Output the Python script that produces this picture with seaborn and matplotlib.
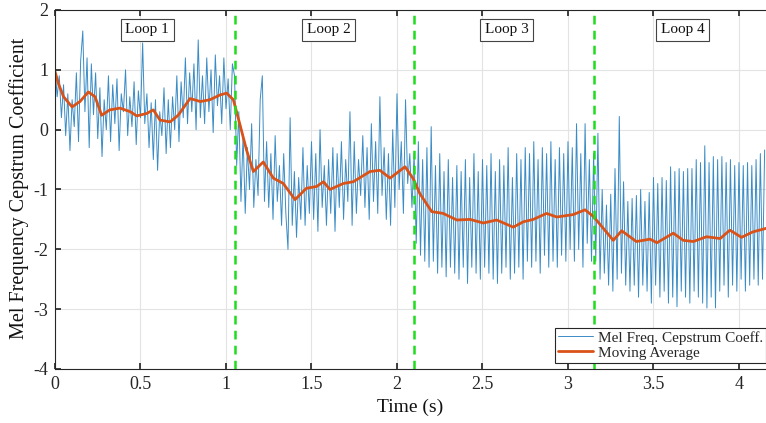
import numpy as np
import pandas as pd
import matplotlib
matplotlib.use("Agg")
import matplotlib.pyplot as plt
import seaborn as sns

# ---------------- data ----------------
DT = 0.0125  # seconds between MFCC frames

loop1_vals = [1.05, 0.55, 0.9, 0.2, 0.75, -0.1, 0.6, -0.35, 0.5, 0.05, 0.95, -0.2,
              1.15, 1.65, 0.3, 1.2, -0.3, 1.1, 0.25, 0.95, -0.15, 0.7, -0.45, 0.5,
              0.0, 0.9, -0.2, 0.75, 0.1, 0.85, -0.35, 0.6, 0.3, 1.0, -0.1, 0.55,
              0.05, 0.8, -0.25, 0.65, 0.2, 1.45, 0.1, 0.6, -0.3, 0.45, -0.5, 0.5,
              -0.68, 0.3, -0.1, 0.7, -0.4, 0.5, -0.3, 0.55, 0.0, 0.9, -0.2, 0.8,
              0.2, 1.2, 0.1, 0.95, 0.3, 1.1, 0.0, 1.5, 0.2, 0.9, 0.1, 1.2,
              0.3, 1.0, -0.05, 1.25, 0.4, 0.9, 0.1, 1.2, 0.35, 0.85, 0.0, 1.1]

loop2_vals = [0.9, -0.6, 0.3, -1.2, -0.1, -1.4, -0.3, -1.0, 0.1, -1.3, -0.5, -1.1,
              0.5, 0.9, -1.2, -0.2, -1.3, -0.4, -1.5, -0.1, -1.2, -0.6, -1.6, -0.4,
              -1.4, -2.0, 0.2, -1.6, -0.7, -1.8, -0.8, -1.5, -0.3, -1.6, -0.6, -1.4,
              -0.2, -1.5, -0.4, -1.7, 0.0, -1.3, -0.6, -1.6, -0.5, -1.4, -0.3, -1.7,
              -0.4, -1.3, -0.2, -1.5, -0.5, -1.2, 0.3, -1.6, -0.2, -1.4, -0.5, -1.1,
              -0.1, -1.3, -0.3, -1.5, 0.1, -1.2, -0.2, -1.4, 0.55, -1.1, -0.3, -1.5,
              -0.4, -1.6, 0.0, -1.3, 0.6, -1.0, -0.2, -1.4, 0.5, -0.9, -0.4, -1.3]

loop3_vals = [-0.4, -1.9, -0.2, -2.1, -0.5, -2.2, -0.3, -2.3, 0.05, -2.2, -0.6, -2.4,
              -0.4, -2.3, -0.7, -2.46, -0.5, -2.3, -0.8, -2.4, -0.6, -2.5, -0.7, -2.3,
              -0.5, -2.57, -0.8, -2.3, -0.4, -2.4, -0.7, -2.5, -0.5, -2.3, -0.6, -2.4,
              -0.4, -2.5, -0.7, -2.57, -0.5, -2.4, -0.6, -2.3, -0.3, -2.5, -0.8, -2.4,
              -0.4, -2.3, -0.5, -2.5, -0.3, -2.2, -0.4, -2.3, -0.2, -2.2, -0.5, -2.4,
              -0.3, -2.1, -0.4, -2.3, -0.2, -2.2, -0.5, -2.3, -0.3, -2.1, -0.4, -2.2,
              -0.2, -2.0, -0.3, -2.2, 0.1, -2.0, -0.4, -2.3, 0.1, -1.9, -0.5, -2.2]

loop4_vals = [-0.4, -2.2, -0.06, -2.5, -1.0, -2.4, -1.26, -2.6, -1.08, -2.7, -0.65, -2.5,
              0.22, -2.4, -0.87, -2.6, -1.2, -2.7, -1.15, -2.6, -1.1, -2.8, -1.0, -2.6,
              -1.2, -2.7, -1.05, -2.9, -0.8, -2.6, -0.9, -2.8, -0.8, -2.7, -0.85, -2.9,
              -0.62, -2.8, -0.7, -2.96, -0.65, -2.7, -0.7, -2.8, -0.65, -2.9, -0.65, -2.7,
              -0.5, -2.8, -0.55, -2.9, -0.27, -2.98, -0.55, -2.8, -0.45, -2.98, -0.5, -2.7,
              -0.45, -2.6, -0.55, -2.8, -0.5, -2.6, -0.6, -2.7, -0.55, -2.5, -0.6, -2.7,
              -0.55, -2.6, -0.6, -2.5, -0.5, -2.6, -0.4, -2.5, -0.34]

ma_time = [0, .02, .05, .10, .146, .195, .234, .273, .32, .38, .44, .478, .536, .575, .614,
           .673, .72, .79, .85, .906, .965, 1.004, 1.043, 1.082, 1.12, 1.16, 1.218, 1.277,
           1.335, 1.404, 1.47, 1.53, 1.57, 1.608, 1.686, 1.745, 1.842, 1.90, 1.96, 2.047,
           2.095, 2.134, 2.203, 2.27, 2.35, 2.427, 2.505, 2.583, 2.68, 2.739, 2.797, 2.875,
           2.934, 3.03, 3.10, 3.148, 3.207, 3.265, 3.314, 3.40, 3.48, 3.52, 3.616, 3.674,
           3.733, 3.81, 3.89, 3.947, 4.015, 4.08, 4.158]
ma_vals = [.97, .77, .55, .38, .47, .63, .55, .24, .33, .36, .30, .23, .27, .33, .16,
           .13, .24, .52, .47, .50, .58, .61, .50, .08, -.34, -.70, -.54, -.81,
           -.90, -1.17, -.98, -.95, -.87, -1.0, -.90, -.87, -.70, -.68, -.81, -.62,
           -.82, -1.07, -1.37, -1.40, -1.51, -1.50, -1.56, -1.51, -1.63, -1.54, -1.50, -1.40,
           -1.46, -1.42, -1.34, -1.45, -1.65, -1.85, -1.69, -1.87, -1.83, -1.89, -1.73, -1.85,
           -1.87, -1.79, -1.82, -1.68, -1.80, -1.71, -1.65]

loop_bounds = [1.05, 2.10, 3.15]
loop_labels = ["Loop 1", "Loop 2", "Loop 3", "Loop 4"]
loop_label_x = [0.54, 1.60, 2.64, 3.67]
x_ticks = [0, 0.5, 1, 1.5, 2, 2.5, 3, 3.5, 4]
x_tick_labels = ["0", "0.5", "1", "1.5", "2", "2.5", "3", "3.5", "4"]
y_ticks = [-4, -3, -2, -1, 0, 1, 2]

# ---------------- figure ----------------
sns.set_theme(style="whitegrid")
plt.rcParams["font.family"] = ["Liberation Serif", "DejaVu Serif"]
plt.rcParams["axes.unicode_minus"] = False

fig = plt.figure(figsize=(7.66, 4.23), dpi=100)
ax = fig.add_axes([0.0718, 0.1277, 0.9282, 0.8487])
ax.set_facecolor("white")

mfcc = loop1_vals + loop2_vals + loop3_vals + loop4_vals
df = pd.DataFrame({"t": np.arange(len(mfcc)) * DT, "v": mfcc})
df_ma = pd.DataFrame({"t": ma_time, "v": ma_vals})

sns.lineplot(data=df, x="t", y="v", ax=ax, color="#3a8cc6", lw=0.7,
             label="Mel Freq. Cepstrum Coeff.", estimator=None)
sns.lineplot(data=df_ma, x="t", y="v", ax=ax, color="#D95319", lw=2.0,
             label="Moving Average", estimator=None)

for b in loop_bounds:
    ax.axvline(b, color="#1fdc1f", lw=1.8, ls=(0, (3.5, 2.5)), zorder=3)

for lx, lab in zip(loop_label_x, loop_labels):
    ax.text(lx, 1.67, lab, ha="center", va="center", fontsize=11, color="#111111",
            bbox=dict(boxstyle="square,pad=0.3", fc="white", ec="#444444", lw=0.8))

ax.set_xlim(0, 4.158)
ax.set_ylim(-4, 2)
ax.set_xticks(x_ticks)
ax.set_xticklabels(x_tick_labels)
ax.set_yticks(y_ticks)
ax.grid(True, color="#e3e3e3", lw=0.8)
ax.tick_params(axis="both", labelsize=13, colors="#262626", direction="in",
               length=4, top=True, bottom=True, left=True, pad=5)
ax.tick_params(axis="x", top=True, labeltop=False)

for side in ["left", "bottom", "top"]:
    ax.spines[side].set_color("#262626")
    ax.spines[side].set_linewidth(0.8)
ax.spines["right"].set_visible(False)

ax.set_xlabel("Time (s)", fontsize=14, color="#111111")
ax.set_ylabel("Mel Frequency Cepstrum Coefficient", fontsize=14.5, color="#111111")
ax.xaxis.set_label_coords(0.499, -0.083)
ax.yaxis.set_label_coords(-0.037, 0.504)

leg = ax.legend(loc="lower right", bbox_to_anchor=(1.0, 0.017), fontsize=11,
                frameon=True, fancybox=False, framealpha=1, edgecolor="#262626",
                borderpad=0.2, labelspacing=0.1, handlelength=2.3, handletextpad=0.3,
                borderaxespad=0)
leg.get_frame().set_linewidth(0.8)

fig.savefig("out.png", dpi=100)
